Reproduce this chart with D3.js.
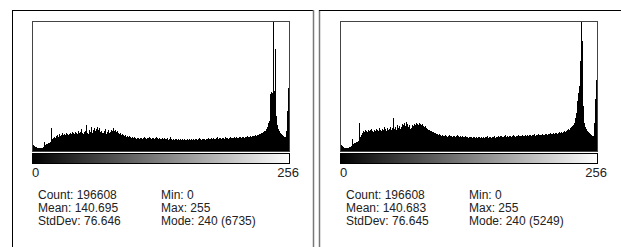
<!DOCTYPE html>
<html>
<head>
<meta charset="utf-8">
<script src="https://cdn.jsdelivr.net/npm/d3@7"></script>
<style>
  body { margin: 0; background: #fff; }
  svg { display: block; font-family: "Liberation Sans", Arial, sans-serif; }
</style>
</head>
<body>
<div id="chart"></div>
<script>
// histogram counts, one per grey level 0..255 (left image)
const countsA = [
  318,262,205,199,161,152,149,158,163,171,
  214,471,309,361,372,418,423,466,1201,627,
  679,731,672,783,829,735,887,776,841,934,
  838,881,829,941,892,836,884,938,889,991,
  942,887,985,933,879,1043,938,992,1147,931,
  884,989,1039,1356,941,882,1094,987,1251,934,
  1096,1192,1043,1148,1247,1089,1201,986,1038,940,
  932,1046,1141,889,991,1095,937,989,1093,1041,
  1198,1043,1094,987,1039,936,884,938,832,887,
  833,781,829,728,779,731,783,727,676,729,
  674,728,681,626,677,672,623,680,676,628,
  679,732,674,622,678,681,729,675,627,673,
  676,628,681,733,674,621,677,629,624,680,
  626,678,623,629,675,574,627,736,622,571,
  628,573,625,621,576,627,570,623,575,629,
  572,626,577,569,624,574,628,571,622,575,
  627,573,624,629,570,626,677,623,576,628,
  622,627,574,629,621,681,626,624,679,628,
  677,625,628,681,734,623,679,676,627,682,
  674,629,731,678,676,624,681,735,672,679,
  677,729,676,733,681,674,731,727,679,734,
  728,675,733,726,782,731,727,786,734,779,
  783,777,834,781,838,831,886,889,937,942,
  991,1043,1038,1146,1252,1461,1567,2971,3069,3018,
  6735,3122,5306,1823,1357,1147,1041,938,886,833,
  782,731,728,1044,2083,3279
];

// histogram counts (right image)
const countsB = [
  246,203,161,124,119,127,122,118,158,166,
  207,491,283,329,322,368,364,409,1142,572,
  653,731,816,771,857,811,776,852,818,859,
  897,812,775,853,817,894,856,811,938,851,
  816,893,857,979,898,811,937,854,896,981,
  858,934,1346,897,976,852,1061,939,1017,894,
  979,1098,1056,1143,1015,1182,1101,977,1059,896,
  937,1057,1019,1097,1061,1140,1099,1058,1142,1101,
  1056,1098,1017,977,1019,936,894,856,852,814,
  812,773,776,731,734,692,689,651,694,652,
  611,656,609,613,651,607,572,615,648,612,
  608,569,614,611,573,606,654,612,567,609,
  571,613,568,574,609,566,572,531,569,575,
  567,528,573,569,532,571,527,574,566,533,
  572,529,568,534,573,567,614,526,571,569,
  531,568,574,612,529,571,566,613,572,609,
  614,569,573,608,653,567,611,574,612,607,
  571,613,656,609,568,614,607,652,611,616,
  608,654,613,609,657,611,648,614,652,655,
  612,651,656,694,609,653,648,697,651,657,
  649,692,654,651,696,691,657,693,689,737,
  694,688,734,697,731,736,692,738,776,733,
  772,737,778,816,774,819,857,893,854,938,
  977,1021,1057,1141,1343,1547,2036,2361,2646,3663,
  5249,4477,1832,1139,977,896,814,773,733,692,
  653,611,609,1141,2118,2891
];

const axisLabels = ["0", "256"];

const statsA = [
  ["Count: 196608", "Mean: 140.695", "StdDev: 76.646"],
  ["Min: 0", "Max: 255", "Mode: 240 (6735)"]
];
const statsB = [
  ["Count: 196608", "Mean: 140.683", "StdDev: 76.645"],
  ["Min: 0", "Max: 255", "Mode: 240 (5249)"]
];

const W = 621, H = 247;

const svg = d3.select("#chart")
  .append("svg")
  .attr("width", W)
  .attr("height", H);

// grey ramp under the histogram
const grad = svg.append("defs")
  .append("linearGradient")
  .attr("id", "ramp")
  .attr("x1", "0%").attr("x2", "100%")
  .attr("y1", "0%").attr("y2", "0%");
grad.append("stop").attr("offset", "0%").attr("stop-color", "#000");
grad.append("stop").attr("offset", "100%").attr("stop-color", "#fff");

// panel frames
const frames = svg.append("g").attr("fill", "none");
frames.append("line").attr("x1", 12.5).attr("x2", 12.5).attr("y1", 10).attr("y2", H).attr("stroke", "#000");
frames.append("line").attr("x1", 12).attr("x2", 314).attr("y1", 10.5).attr("y2", 10.5).attr("stroke", "#000");
frames.append("line").attr("x1", 313.5).attr("x2", 313.5).attr("y1", 10).attr("y2", H).attr("stroke", "#777").attr("stroke-width", 1.5);
frames.append("line").attr("x1", 319.5).attr("x2", 319.5).attr("y1", 10).attr("y2", H).attr("stroke", "#777").attr("stroke-width", 1.5);
frames.append("line").attr("x1", 319).attr("x2", W).attr("y1", 10.5).attr("y2", 10.5).attr("stroke", "#000");

function drawPanel(dx, counts, stats) {
  const g = svg.append("g").attr("transform", `translate(${dx},0)`);

  const xScale = d3.scaleLinear().domain([0, 256]).range([33, 289]);
  const yScale = d3.scaleLinear()
    .domain([0, d3.max(counts)])
    .range([151, 22]);

  // bars, one pixel per grey level
  g.append("g")
    .attr("shape-rendering", "crispEdges")
    .selectAll("rect")
    .data(counts)
    .enter()
    .append("rect")
    .attr("x", (d, i) => xScale(i))
    .attr("width", (d, i) => xScale(i + 1) - xScale(i))
    .attr("y", d => yScale(d))
    .attr("height", d => yScale(0) - yScale(d))
    .attr("fill", "#000");

  // histogram box
  g.append("rect")
    .attr("x", 32.5).attr("y", 21.5)
    .attr("width", 257).attr("height", 130)
    .attr("fill", "none")
    .attr("stroke", "#444");

  // ramp
  g.append("rect")
    .attr("x", 32.5).attr("y", 153.5)
    .attr("width", 257).attr("height", 10)
    .attr("fill", "url(#ramp)")
    .attr("stroke", "#000");

  g.append("text")
    .attr("x", 32).attr("y", 177)
    .attr("font-size", 13).attr("fill", "#222")
    .text(axisLabels[0]);
  g.append("text")
    .attr("x", 299).attr("y", 177)
    .attr("font-size", 13).attr("fill", "#222")
    .attr("text-anchor", "end")
    .text(axisLabels[1]);

  // stats block
  const colX = [38, 161];
  stats.forEach((col, c) => {
    g.append("g")
      .selectAll("text")
      .data(col)
      .enter()
      .append("text")
      .attr("x", colX[c])
      .attr("y", (d, i) => 199 + i * 13)
      .attr("font-size", 12)
      .attr("fill", "#222")
      .text(d => d);
  });
}

drawPanel(0, countsA, statsA);
drawPanel(308, countsB, statsB);
</script>
</body>
</html>
